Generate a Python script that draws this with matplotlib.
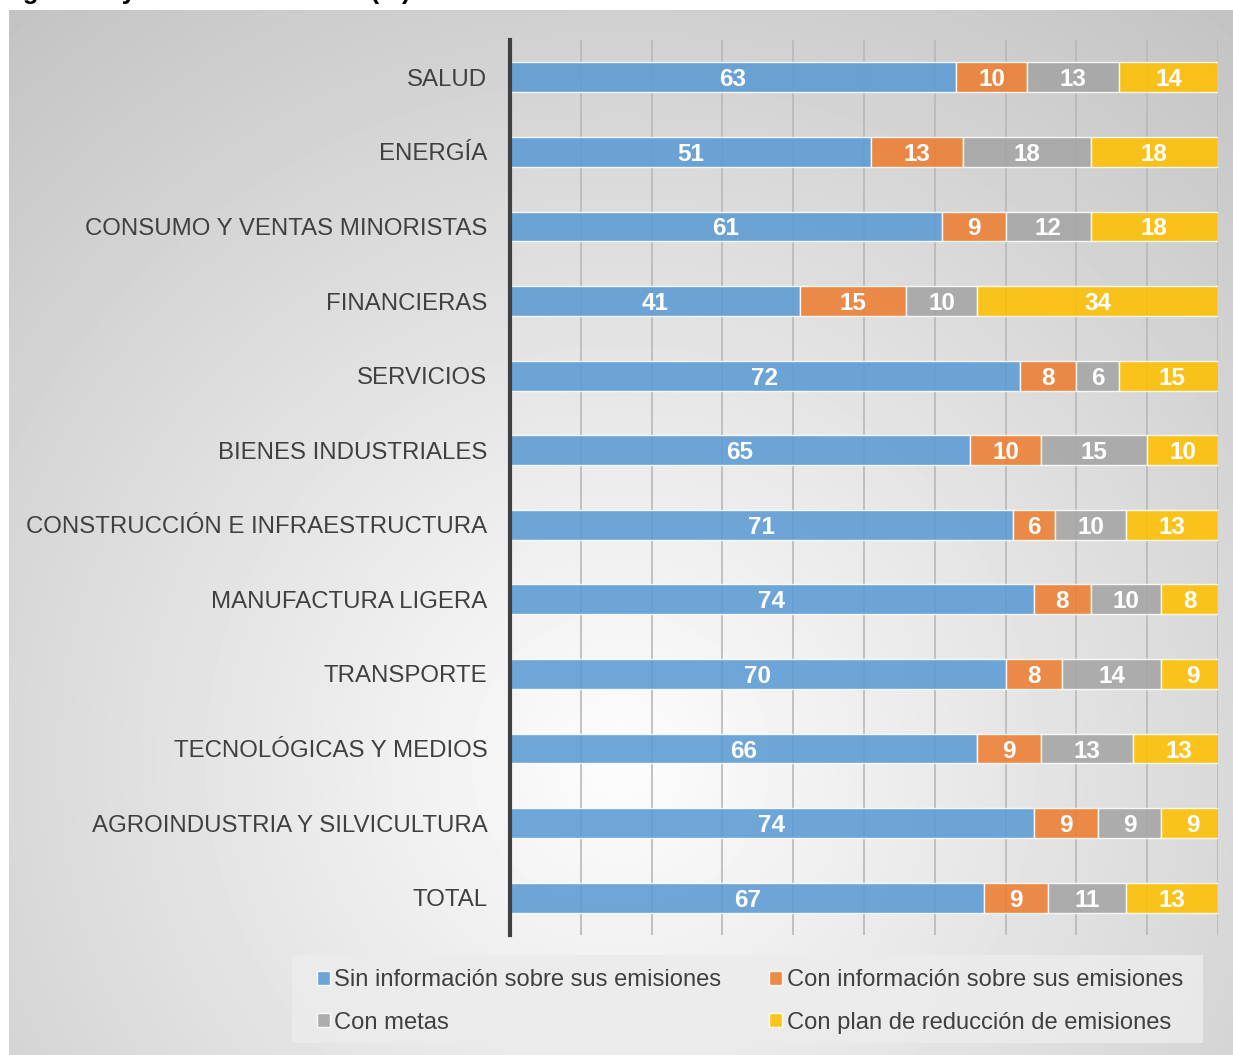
import numpy as np
import matplotlib
matplotlib.use("Agg")
import matplotlib.pyplot as plt
from matplotlib.patches import Patch, Rectangle

categories = ["SALUD", "ENERGÍA", "CONSUMO Y VENTAS MINORISTAS", "FINANCIERAS",
              "SERVICIOS", "BIENES INDUSTRIALES", "CONSTRUCCIÓN E INFRAESTRUCTURA",
              "MANUFACTURA LIGERA", "TRANSPORTE", "TECNOLÓGICAS Y MEDIOS",
              "AGROINDUSTRIA Y SILVICULTURA", "TOTAL"]
sin_info = [63, 51, 61, 41, 72, 65, 71, 74, 70, 66, 74, 67]
con_info = [10, 13, 9, 15, 8, 10, 6, 8, 8, 9, 9, 9]
con_metas = [13, 18, 12, 10, 6, 15, 10, 10, 14, 13, 9, 11]
con_plan = [14, 18, 18, 34, 15, 10, 13, 8, 9, 13, 9, 13]
series_names = ["Sin información sobre sus emisiones",
                "Con información sobre sus emisiones",
                "Con metas",
                "Con plan de reducción de emisiones"]
series_colors = ["#5B9BD5", "#ED7D31", "#A5A5A5", "#FFC000"]
title_text = "Figura 4. Empresas según nivel de gestión y sector económico (%)"

W, H = 1233, 1055
fig = plt.figure(figsize=(W / 100, H / 100), dpi=100)
fig.patch.set_facecolor("white")

# background radial gradient panel
bx0, by0 = 9, 10
bg = fig.add_axes([bx0 / W, 0, (W - bx0) / W, (H - by0) / H], zorder=-5)
yy, xx = np.mgrid[by0:H, bx0:W]
dist = np.hypot(xx - 620, yy - 760)
val = np.clip(253 - 0.060 * dist, 150, 252) / 255.0
bg.imshow(val, cmap="gray", vmin=0, vmax=1, aspect="auto", interpolation="bilinear")
bg.set_axis_off()

# main axes
left, right, top, bottom = 510, 1218, 40, 935
ax = fig.add_axes([left / W, 1 - bottom / H, (right - left) / W, (bottom - top) / H])
ax.set_facecolor("none")

fam = ["Liberation Sans", "DejaVu Sans"]
y = np.arange(len(categories))
data = [sin_info, con_info, con_metas, con_plan]
lefts = np.zeros(len(categories))
for vals, col, name in zip(data, series_colors, series_names):
    vals = np.array(vals, dtype=float)
    ax.barh(y, vals, left=lefts, height=0.4, color=col, alpha=0.88,
            edgecolor=(1, 1, 1, 0.7), linewidth=1.0, label=name, zorder=3)
    for yi, l, v in zip(y, lefts, vals):
        ax.text(l + v / 2, yi, f"{int(v)}", ha="center", va="center_baseline",
                color="white", fontsize=17.5, fontweight="bold",
                family=fam, zorder=4)
    lefts += vals

ax.set_xlim(0, 100)
ax.set_ylim(len(categories) - 0.5, -0.5)
ax.set_xticks(np.arange(0, 101, 10))
ax.set_xticklabels([])
ax.tick_params(axis="x", length=0)
ax.grid(axis="x", color="#b8b8b8", linewidth=1.2, zorder=0)
ax.set_axisbelow(True)
ax.set_yticks(y)
ax.set_yticklabels(categories, fontsize=17.25, color="#404040", family=fam)
ax.tick_params(axis="y", length=0, pad=16.3)
for s in ["top", "right", "bottom"]:
    ax.spines[s].set_visible(False)
ax.spines["left"].set_color("#404040")
ax.spines["left"].set_linewidth(3)
ax.spines["left"].set_zorder(5)

# legend box
fig.patches.append(Rectangle((292 / W, 1 - 1043 / H), 911 / W, 88 / H,
                             transform=fig.transFigure, facecolor="#ececec",
                             alpha=0.85, edgecolor="none", zorder=1))
handles = [Patch(facecolor=c, alpha=0.88, edgecolor=(1, 1, 1, 0.7)) for c in series_colors]
order = [0, 2, 1, 3]
leg = fig.legend([handles[i] for i in order], [series_names[i] for i in order],
                 loc="center", bbox_to_anchor=(750 / W, 1 - 1001.5 / H), ncol=2,
                 frameon=False, handlelength=0.55, handleheight=0.55,
                 handletextpad=0.2, columnspacing=2.0, labelspacing=0.85,
                 borderpad=0.3, prop={"family": fam, "size": 17.15})
for t in leg.get_texts():
    t.set_color("#404040")

# clipped title (only descenders visible in the reference)
fig.text(410 / W, 1 + 1.0 / H, title_text, ha="right", va="baseline",
         fontsize=18.5, fontweight="bold", color="black", family=fam)

fig.savefig("out.png", dpi=100, facecolor="white")
